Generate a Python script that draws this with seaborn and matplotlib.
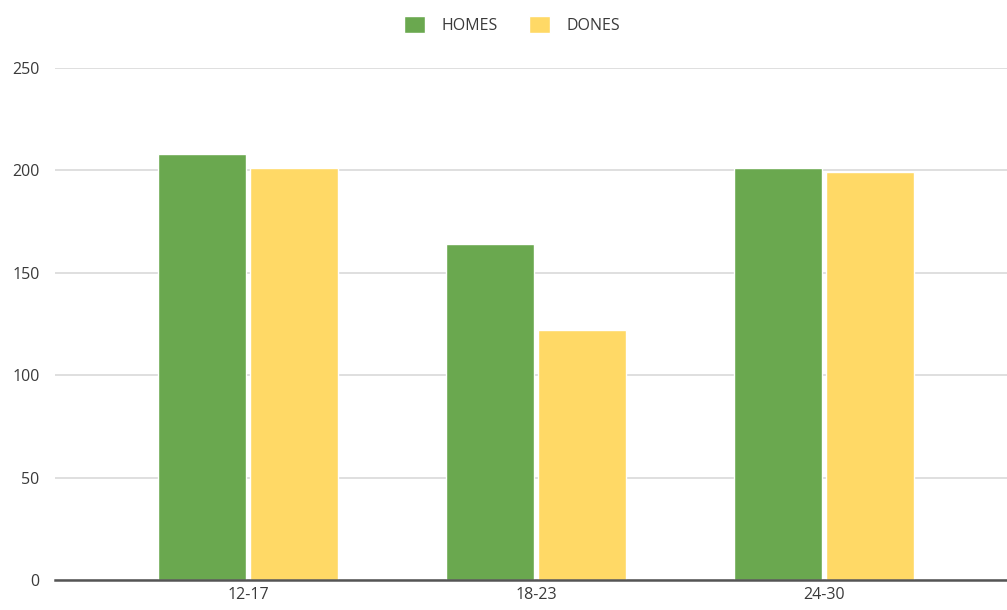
import numpy as np
import pandas as pd
import matplotlib
matplotlib.use('Agg')
import matplotlib.pyplot as plt
import seaborn as sns

# Data
age_groups = ['12-17', '18-23', '24-30']
homes = [208, 164, 201]
dones = [201, 122, 199]

df = pd.DataFrame({
    'group': age_groups * 2,
    'value': homes + dones,
    'series': ['HOMES'] * 3 + ['DONES'] * 3,
})

sns.set_style('white')
plt.rcParams['font.family'] = ['Open Sans', 'DejaVu Sans']

fig = plt.figure(figsize=(10.07, 6.1), dpi=100)
ax = fig.add_axes([55 / 1007, 1 - 580 / 610, 1 - 55 / 1007, (580 - 68) / 610])

palette = {'HOMES': '#6aa84f', 'DONES': '#ffd966'}
sns.barplot(data=df, x='group', y='value', hue='series', palette=palette,
            width=0.64, gap=0.04, saturation=1, ax=ax, zorder=3)

ax.set_ylim(0, 250)
ax.set_yticks([0, 50, 100, 150, 200, 250])
ax.set_xlim(-0.67, 2.635)
ax.grid(axis='y', color='#d9d9d9', linewidth=1.2, zorder=0)
ax.set_axisbelow(True)
for s in ['top', 'right', 'left']:
    ax.spines[s].set_visible(False)
ax.spines['bottom'].set_color('#555555')
ax.spines['bottom'].set_linewidth(1.8)
ax.spines['bottom'].set_zorder(4)
ax.tick_params(axis='both', length=0, labelsize=11.5, colors='#3a3a3a')
ax.tick_params(axis='y', pad=11)
ax.tick_params(axis='x', pad=5)
ax.set_xlabel('')
ax.set_ylabel('')

handles, labels = ax.get_legend_handles_labels()
ax.legend_.remove()
fig.legend(handles, labels, loc='center', bbox_to_anchor=(512 / 1007, 1 - 25 / 610),
           ncol=2, frameon=False, fontsize=11.5, handlelength=1.3, handleheight=1.3,
           columnspacing=2.0, handletextpad=1.0, labelcolor='#3a3a3a')

fig.savefig('out.png', dpi=100)
